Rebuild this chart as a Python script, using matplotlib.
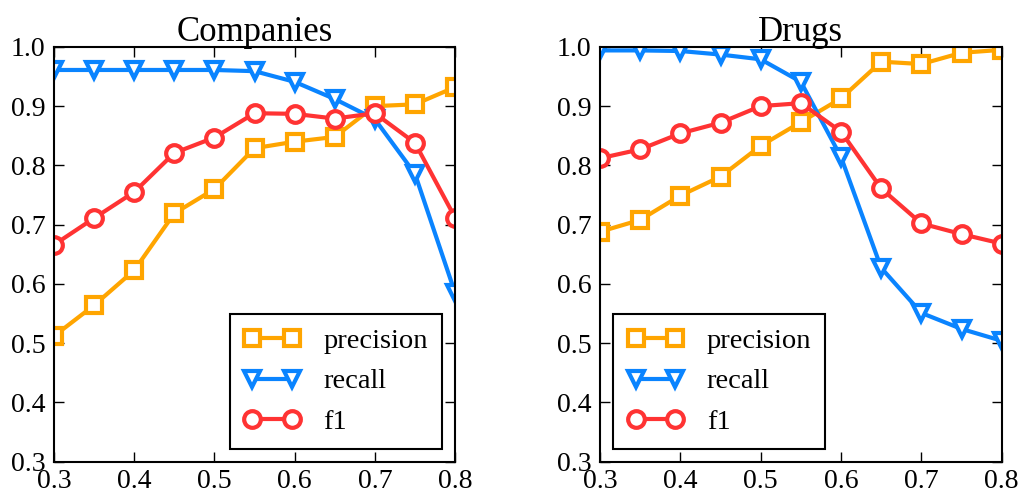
import matplotlib
matplotlib.use("Agg")
import matplotlib.pyplot as plt

thresholds = [0.3, 0.35, 0.4, 0.45, 0.5, 0.55, 0.6, 0.65, 0.7, 0.75, 0.8]

comp_precision = [0.512, 0.564, 0.623, 0.719, 0.760, 0.829, 0.840, 0.848, 0.900, 0.903, 0.932]
comp_recall = [0.961, 0.961, 0.961, 0.961, 0.961, 0.959, 0.941, 0.912, 0.878, 0.786, 0.585]
comp_f1 = [0.666, 0.711, 0.755, 0.821, 0.847, 0.888, 0.887, 0.879, 0.888, 0.838, 0.712]

drug_precision = [0.688, 0.708, 0.749, 0.781, 0.833, 0.873, 0.913, 0.975, 0.971, 0.990, 0.995]
drug_recall = [0.994, 0.994, 0.993, 0.987, 0.979, 0.941, 0.814, 0.627, 0.551, 0.524, 0.504]
drug_f1 = [0.812, 0.827, 0.854, 0.872, 0.900, 0.905, 0.857, 0.761, 0.702, 0.684, 0.668]

titles = ["Companies", "Drugs"]
legend_labels = ["precision", "recall", "f1"]
yticks = [0.3, 0.4, 0.5, 0.6, 0.7, 0.8, 0.9, 1.0]
xticks = [0.3, 0.4, 0.5, 0.6, 0.7, 0.8]

plt.rcParams['font.family'] = ['Liberation Serif', 'DejaVu Serif']

colors = ["#FFA500", "#0A84FF", "#FF3333"]
markers = ["s", "v", "o"]

fig = plt.figure(figsize=(10.23, 4.98), dpi=100)
positions = [[0.0528, 0.0729, 0.392, 0.833], [0.5865, 0.0729, 0.3927, 0.833]]
datasets = [
    (comp_precision, comp_recall, comp_f1),
    (drug_precision, drug_recall, drug_f1),
]
legend_locs = ["lower right", "lower left"]

for i in range(2):
    ax = fig.add_axes(positions[i])
    for series, c, m, lab in zip(datasets[i], colors, markers, legend_labels):
        ax.plot(thresholds, series, color=c, marker=m, markersize=12,
                markerfacecolor="white", markeredgecolor=c, markeredgewidth=3.0,
                linewidth=3.0, label=lab)
    ax.set_xlim(0.3, 0.8)
    ax.set_ylim(0.3, 1.0)
    ax.set_xticks(xticks)
    ax.set_yticks(yticks)
    ax.set_xticklabels([f"{t:.1f}" for t in xticks])
    ax.set_yticklabels([f"{t:.1f}" for t in yticks])
    ax.tick_params(direction="in", top=True, right=True, length=7.2, width=1,
                   labelsize=20)
    ax.tick_params(axis="x", pad=5)
    ax.tick_params(axis="y", pad=6)
    for sp in ax.spines.values():
        sp.set_linewidth(1.5)
    ax.set_title(titles[i], fontsize=25, pad=4)
    leg = ax.legend(loc=legend_locs[i], prop={'size': 20.5}, numpoints=2,
                    handlelength=2.0, fancybox=False, framealpha=1,
                    edgecolor="black", borderpad=0.5, labelspacing=0.5,
                    handletextpad=0.8, borderaxespad=0.45)
    leg.get_frame().set_linewidth(1.5)

fig.savefig("out.png", dpi=100)
